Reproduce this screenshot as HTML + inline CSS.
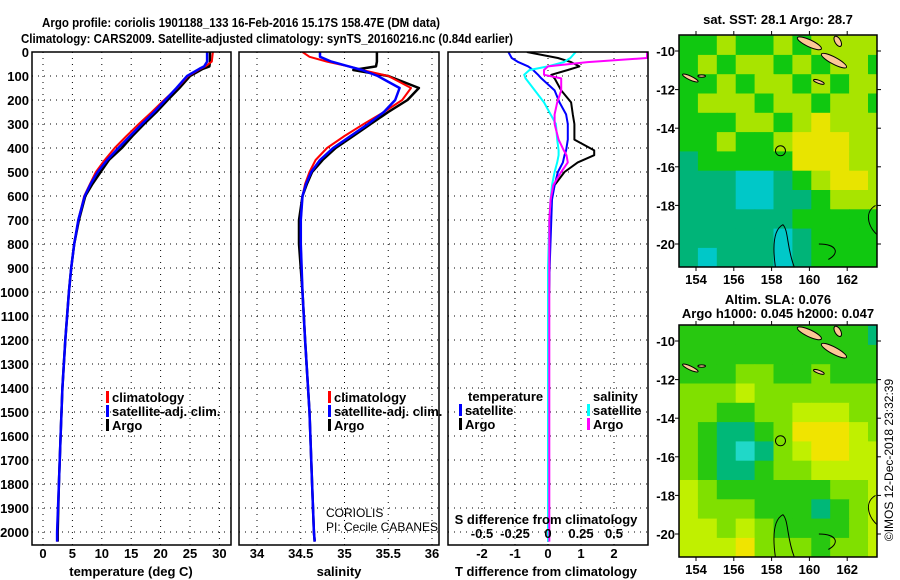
<!DOCTYPE html>
<html><head><meta charset="utf-8"><style>
body{margin:0;background:#fff;}
svg{display:block;font-family:"Liberation Sans",sans-serif;}
.t{font-weight:bold;font-size:13px;fill:#000;}
.n{font-weight:normal;font-size:12px;fill:#000;}
</style></head><body>
<svg id="s" width="900" height="580" viewBox="0 0 900 580">
<text class="t" x="42" y="27" font-size="14" textLength="398" lengthAdjust="spacingAndGlyphs">Argo profile: coriolis 1901188_133 16-Feb-2016 15.17S 158.47E (DM data)</text>
<text class="t" x="21" y="43" font-size="14" textLength="492" lengthAdjust="spacingAndGlyphs">Climatology: CARS2009. Satellite-adjusted climatology: synTS_20160216.nc (0.84d earlier)</text>
<text class="t" x="778" y="24" text-anchor="middle">sat. SST: 28.1 Argo: 28.7</text>
<text class="t" x="778" y="304" text-anchor="middle">Altim. SLA: 0.076</text>
<text class="t" x="778" y="318" text-anchor="middle">Argo h1000: 0.045 h2000: 0.047</text>
<text x="893" y="460" font-size="12" text-anchor="middle" transform="rotate(-90 893 460)">©IMOS 12-Dec-2018 23:32:39</text>
</svg>
<script>
// ---- data ----
const depthTicks=[0,100,200,300,400,500,600,700,800,900,1000,1100,1200,1300,1400,1500,1600,1700,1800,1900,2000];
const tTicks=[0,5,10,15,20,25,30];
const sTicks=[34,34.5,35,35.5,36];
const dtTicks=[-2,-1,0,1,2];
const dsTicks=[-0.5,-0.25,0,0.25,0.5];
const tDepth=[0,40,60,70,100,150,200,250,300,350,400,450,500,550,600,700,800,900,1000,1200,1400,1600,1800,2000,2040];
const tArgo=[28.4,28.4,28.3,27.2,25.0,23.2,21.2,19.3,17.2,15.2,13.4,11.2,9.8,8.4,7.2,6.1,5.3,4.8,4.4,3.8,3.3,3.0,2.7,2.5,2.5];
const tClim=[28.9,28.7,27.6,26.8,24.7,22.8,20.6,18.5,16.3,14.2,12.2,10.5,9.0,8.0,7.0,6.0,5.3,4.8,4.4,3.8,3.3,3.0,2.7,2.4,2.4];
const tSat=[27.9,27.9,27.4,26.6,24.5,22.7,20.8,18.9,16.8,14.8,12.8,10.9,9.3,8.1,7.1,6.0,5.3,4.8,4.4,3.8,3.3,3.0,2.7,2.4,2.4];
const sDepth=[0,20,40,60,75,100,150,200,250,300,350,400,450,500,550,600,700,800,1000,1200,1500,1800,2000,2040];
const sArgo=[35.37,35.37,35.37,35.36,35.1,35.5,35.85,35.72,35.5,35.3,35.1,34.9,34.75,34.63,34.57,34.52,34.48,34.48,34.52,34.55,34.6,34.63,34.65,34.66];
const sClim=[34.52,34.6,34.8,35.05,35.2,35.5,35.76,35.66,35.45,35.22,35.0,34.8,34.67,34.6,34.55,34.52,34.5,34.5,34.52,34.55,34.6,34.63,34.65,34.66];
const sSat=[34.72,34.72,34.85,35.05,35.2,35.38,35.63,35.58,35.45,35.27,35.07,34.87,34.72,34.62,34.56,34.52,34.5,34.5,34.52,34.55,34.6,34.63,34.65,34.66];
const dDepth=[0,25,42,60,75,95,110,160,210,260,300,365,410,430,460,500,555,615,700,900,1200,1600,2040];
const dtArgo=[-0.64,0.3,0.7,0.95,0.6,0.1,0.2,0.4,0.7,0.75,0.8,0.8,1.4,1.4,0.9,0.5,0.2,0.1,0.05,0.05,0.0,0.0,0.0];
const dtSat=[-1.2,-1.1,-0.9,-0.6,-0.45,-0.3,-0.2,0.2,0.35,0.55,0.6,0.6,0.55,0.5,0.45,0.3,0.2,0.12,0.1,0.05,0.0,0.0,0.0];
const dsSat=[0.21,0.17,0.12,0.0,-0.14,-0.18,-0.17,-0.1,-0.03,0.02,0.06,0.07,0.08,0.08,0.07,0.05,0.03,0.02,0.01,0.0,0.0,0.0,0.0];
const dsArgo=[0.75,0.75,0.3,0.0,-0.03,-0.03,0.1,0.1,0.07,0.05,0.05,0.08,0.12,0.14,0.15,0.1,0.04,0.02,0.01,0.01,0.01,0.01,0.01];
const latTicks=[10,12,14,16,18,20];
const lonTicks=[154,156,158,160,162];
const sstGrid=[
[3,3,4,3,3,4,3,4,4,4,4],[3,4,3,4,4,3,4,3,4,4,3],[3,3,4,3,4,4,3,4,3,4,4],[3,4,4,4,3,4,4,3,4,4,3],
[3,3,3,4,4,3,4,5,4,4,4],[3,3,4,3,3,4,5,5,5,4,4],[2,3,3,3,3,3,5,5,5,4,4],[2,2,2,1,1,2,3,4,5,5,4],
[2,2,2,1,1,2,2,3,4,4,4],[2,2,2,2,2,2,3,3,3,3,3],[2,2,2,2,2,1,2,3,3,3,3],[2,1,2,2,2,1,2,3,3,3,3]];
const slaGrid=[
[2,2,2,2,2,2,2,2,2,2,1],[2,2,2,2,2,2,2,2,2,2,2],[2,2,2,3,3,2,2,3,2,2,2],[3,3,3,4,3,3,3,3,3,3,3],
[3,3,2,2,3,3,4,4,4,3,3],[3,2,1,1,2,3,5,5,5,4,3],[3,2,1,0,1,3,4,5,5,4,4],[3,2,1,1,2,3,3,4,4,4,4],
[4,3,2,2,2,2,2,2,3,3,4],[4,3,3,3,2,2,2,1,2,3,4],[4,4,3,4,3,2,2,2,2,3,4],[4,4,4,5,3,3,3,2,3,3,4]];
const sstColors=["#1e8cdc","#00c8c8","#00b478","#10c810","#a8e400","#e8e400"];
const slaColors=["#20d8c8","#00b878","#28c810","#80e000","#c0f000","#f0e400"];
const floatLon=158.47, floatLat=15.17;

// ---- helpers ----
const svg=document.getElementById('s');const NS='http://www.w3.org/2000/svg';
function mk(tag,at,parent){const e=document.createElementNS(NS,tag);for(const k in at)e.setAttribute(k,at[k]);(parent||svg).appendChild(e);return e;}
const Y0=52,Y1=545;
const yD=d=>Y0+d*0.24;
function panel(name){
  const g=mk('g',{});
  
  
  return g;}
function frame(g,x0,x1){mk('rect',{x:x0,y:Y0,width:x1-x0,height:Y1-Y0,fill:'none',stroke:'#000','stroke-width':1.5},g);}
function hgrid(g,x0,x1,labels){
  depthTicks.forEach(d=>{const y=yD(d);
    const l=mk('line',{x1:x0,x2:x1,y1:y,y2:y,stroke:'#000','stroke-dasharray':'1,5','stroke-width':1},g);
    
    if(labels){const t=mk('text',{x:x0-3,y:y+5,'text-anchor':'end',class:'t'},g);t.textContent=d;
      }});
}
function vgrid(g,ticks,xf,ylab){
  ticks.forEach(v=>{const x=xf(v);
    const l=mk('line',{x1:x,x2:x,y1:Y0,y2:Y1,stroke:'#000','stroke-dasharray':'1,5'},g);
    
    const t=mk('text',{x:x,y:ylab,'text-anchor':'middle',class:'t'},g);t.textContent=v;
    });
}
function line(g,xs,ds,xf,col,w,name,clip){
  const pts=xs.map((v,i)=>xf(v).toFixed(1)+','+yD(ds[i]).toFixed(1)).join(' ');
  const p=mk('polyline',{points:pts,fill:'none',stroke:col,'stroke-width':w,'stroke-linejoin':'round'},g);
  if(clip)p.setAttribute('clip-path',clip);
  }
function txt(g,x,y,s,name,extra){const t=mk('text',Object.assign({x:x,y:y,class:'t'},extra||{}),g);t.textContent=s;
  return t;}
function legItem(g,x,y,col,s,name){mk('rect',{x:x,y:y-11,width:3,height:12,fill:col},g);txt(g,x+6,y,s,name);}

// Panel 1: temperature
const xT=v=>43+v*5.88;
const g1=panel('temperature-panel');
hgrid(g1,32,231,true);vgrid(g1,tTicks,xT,558);
line(g1,tArgo,tDepth,xT,'#000',2.5,'argo-temperature-line');
line(g1,tClim,tDepth,xT,'#f00',2,'climatology-temperature-line');
line(g1,tSat,tDepth,xT,'#00f',2.5,'satellite-temperature-line');
frame(g1,32,231);
txt(g1,131,576,'temperature (deg C)','temperature-axis-title',{'text-anchor':'middle'});
legItem(g1,106,402,'#f00','climatology','legend-climatology');
legItem(g1,106,416,'#00f','satellite-adj. clim.','legend-satellite');
legItem(g1,106,430,'#000','Argo','legend-argo');

// Panel 2: salinity
const xS=v=>257+(v-34)*87.5;
const g2=panel('salinity-panel');
hgrid(g2,239,439,false);vgrid(g2,sTicks,xS,558);
const cp2=mk('clipPath',{id:'c2'},g2);mk('rect',{x:239,y:Y0,width:200,height:Y1-Y0},cp2);
line(g2,sArgo,sDepth,xS,'#000',2.5,'argo-salinity-line','url(#c2)');
line(g2,sClim,sDepth,xS,'#f00',2,'climatology-salinity-line','url(#c2)');
line(g2,sSat,sDepth,xS,'#00f',2.5,'satellite-salinity-line','url(#c2)');
frame(g2,239,439);
txt(g2,339,576,'salinity','salinity-axis-title',{'text-anchor':'middle'});
legItem(g2,328,402,'#f00','climatology','legend-climatology-s');
legItem(g2,328,416,'#00f','satellite-adj. clim.','legend-satellite-s');
legItem(g2,328,430,'#000','Argo','legend-argo-s');
txt(g2,326,517,'CORIOLIS','data-centre-label',{class:'n'});
txt(g2,326,531,'PI: Cecile CABANES','pi-label',{class:'n'});

// Panel 3: differences
const xDT=v=>548+v*33, xDS=v=>548+v*132;
const g3=panel('difference-panel');
hgrid(g3,448,648,false);vgrid(g3,dtTicks,xDT,558);
const cp=mk('clipPath',{id:'c3'},g3);mk('rect',{x:448,y:Y0,width:200,height:Y1-Y0},cp);
line(g3,dtArgo,dDepth,xDT,'#000',2,'argo-t-diff-line','url(#c3)');
line(g3,dtSat,dDepth,xDT,'#00f',2,'satellite-t-diff-line','url(#c3)');
line(g3,dsSat,dDepth,xDS,'#0ff',2,'satellite-s-diff-line','url(#c3)');
line(g3,dsArgo,dDepth,xDS,'#f0f',2,'argo-s-diff-line','url(#c3)');
dsTicks.forEach(v=>{txt(g3,xDS(v),538,String(v),'s-diff-tick-label',{'text-anchor':'middle'});});
frame(g3,448,648);
txt(g3,546,524,'S difference from climatology','s-diff-axis-title',{'text-anchor':'middle'});
txt(g3,546,576,'T difference from climatology','t-diff-axis-title',{'text-anchor':'middle'});
txt(g3,468,401,'temperature','legend-temperature-header');
legItem(g3,459,415,'#00f','satellite','legend-t-satellite');
legItem(g3,459,429,'#000','Argo','legend-t-argo');
txt(g3,593,401,'salinity','legend-salinity-header');
legItem(g3,587,415,'#0ff','satellite','legend-s-satellite');
legItem(g3,587,429,'#f0f','Argo','legend-s-argo');

// Maps
function map(top,grid,colors,name){
  const g=mk('g',{});
  
  const L=679,R=877,T=top,B=top+232;
  const xL=lon=>696+(lon-154)*18.9, yL=lat=>top+16+(lat-10)*19.3;
  const cp=mk('clipPath',{id:'cm'+top},g);mk('rect',{x:L,y:T,width:R-L,height:B-T},cp);
  const cg=mk('g',{'clip-path':'url(#cm'+top+')'},g);
  grid.forEach((row,r)=>row.forEach((v,c)=>{
    const x=xL(153.1+c),y=yL(9.2+r);
    const e=mk('rect',{x:x.toFixed(1),y:y.toFixed(1),width:19.5,height:20,fill:colors[v]},cg);
    }));
  [[160.0,9.6,0.7,0.18,25],[161.3,10.5,0.75,0.18,28],[161.5,9.5,0.3,0.15,60],[160.5,11.6,0.3,0.08,20],[153.7,11.4,0.45,0.1,25],[154.3,11.3,0.2,0.06,0]].forEach(a=>{
    const e=mk('ellipse',{cx:xL(a[0]),cy:yL(a[1]),rx:a[2]*18.9,ry:a[3]*19.3,fill:'#fcc896',stroke:'#000','stroke-width':1,transform:`rotate(${a[4]} ${xL(a[0])} ${yL(a[1])})`},cg);
    });
  const cl=mk('path',{d:`M${xL(158.2)},${B} C${xL(158.0)},${yL(19.8)} ${xL(158.2)},${yL(19.2)} ${xL(158.6)},${yL(19.0)} C${xL(158.9)},${yL(19.3)} ${xL(158.8)},${yL(20.2)} ${xL(159.2)},${B} M${xL(160.5)},${yL(20.0)} C${xL(161.5)},${yL(20.0)} ${xL(161.6)},${yL(20.5)} ${xL(161.0)},${yL(20.8)} M${xL(163.5)},${yL(18.0)} C${xL(162.8)},${yL(18.4)} ${xL(163.2)},${yL(19.3)} ${xL(163.7)},${yL(19.6)}`,fill:'none',stroke:'#000','stroke-width':1},cg);
  
  const fc=mk('circle',{cx:xL(floatLon),cy:yL(floatLat),r:5,fill:'none',stroke:'#000','stroke-width':1},g);
  
  mk('rect',{x:L,y:T,width:R-L,height:B-T,fill:'none',stroke:'#000','stroke-width':1.5},g);
  latTicks.forEach(v=>{const y=yL(v);mk('line',{x1:L-4,x2:L,y1:y,y2:y,stroke:'#000'},g);mk('line',{x1:R,x2:R+4,y1:y,y2:y,stroke:'#000'},g);
    txt(g,L-4,y+5,'-'+v,'lat-tick-label',{'text-anchor':'end'});});
  lonTicks.forEach(v=>{const x=xL(v);mk('line',{x1:x,x2:x,y1:T-4,y2:T,stroke:'#000'},g);mk('line',{x1:x,x2:x,y1:B,y2:B+4,stroke:'#000'},g);
    txt(g,x,B+17,v,'lon-tick-label',{'text-anchor':'middle'});});
}
map(35,sstGrid,sstColors,'sst-map');
map(325,slaGrid,slaColors,'sla-map');
</script>
</body></html>
